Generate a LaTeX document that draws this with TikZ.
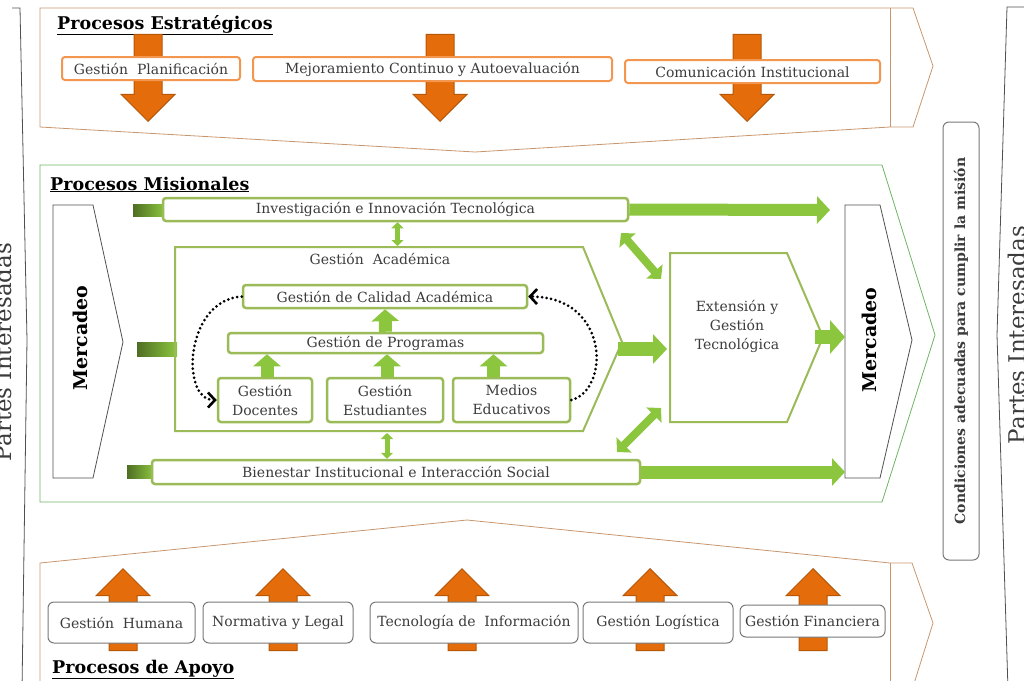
\documentclass[tikz,border=0pt]{standalone}
\usepackage{fontspec}
\setmainfont{DejaVu Serif}
\usetikzlibrary{arrows.meta,shapes.arrows}

\definecolor{naranja}{RGB}{228,108,10}
\definecolor{naranjaosc}{RGB}{182,87,8}
\definecolor{naranjaclaro}{RGB}{242,150,80}
\definecolor{marron}{RGB}{200,150,110}
\definecolor{verde}{RGB}{140,198,63}
\definecolor{verdeborde}{RGB}{155,187,89}
\definecolor{verdemarco}{RGB}{110,180,100}
\definecolor{verdeosc}{RGB}{79,110,35}
\definecolor{gris}{RGB}{120,120,120}
\definecolor{grisosc}{RGB}{80,80,80}
\definecolor{texto}{RGB}{60,60,60}

\begin{document}
\begin{tikzpicture}[x=1pt,y=-1pt,
  tit/.style={font=\fontsize{17.5}{20}\selectfont\bfseries, anchor=base west, inner sep=0pt},
  cajanar/.style={draw=naranjaclaro, line width=2pt, rounded corners=3pt, fill=white, text=texto, font=\fontsize{14}{17}\selectfont, inner sep=0pt},
  cajaverde/.style={draw=verdeborde, line width=2.5pt, rounded corners=3pt, fill=white, text=texto, font=\fontsize{14}{19}\selectfont, inner sep=0pt, align=center},
  cajagris/.style={draw=gris, line width=1pt, rounded corners=6pt, fill=white, text=texto, font=\fontsize{14}{17}\selectfont, inner sep=0pt},
  flechanar/.style={single arrow, draw=naranjaosc, fill=naranja, line width=1pt, inner xsep=0pt, inner ysep=13.5pt, single arrow head extend=13pt, single arrow tip angle=90, minimum height=87pt, minimum width=53pt, anchor=tip},
  flechaverde/.style={draw=verde, line width=12pt, -{Triangle[length=13pt,width=27pt]}},
  subeverde/.style={draw=verde, line width=13pt, -{Triangle[length=12pt,width=27pt]}},
  dobleverde/.style={draw=verde, line width=8pt, {Triangle[length=10pt,width=21pt]}-{Triangle[length=10pt,width=21pt]}},
  punteada/.style={line width=3pt, dash pattern=on 0pt off 4.6pt, line cap=round, -{Straight Barb[length=7pt,width=15pt,line width=2.6pt]}},
  mercadeo/.style={rotate=90, font=\fontsize{19}{21}\selectfont\bfseries},
  marco/.style={line width=0.8pt}]
\useasboundingbox (0,0) rectangle (1024,680);
\clip (0,0) rectangle (1024,680);

\draw[grisosc, marco] (12,8) -- (20,8) -- (27,340) -- (22,690);
\draw[grisosc, marco] (1030,7) -- (1007,7) -- (997,335) -- (1008,690);
\node[font=\fontsize{23}{26}\selectfont, rotate=90, anchor=base, text=texto, inner sep=0pt] (partesizq) at (12,352) {Partes Interesadas};
\node[font=\fontsize{23}{26}\selectfont, rotate=90, anchor=base, text=texto, inner sep=0pt] (partesder) at (1025,335) {Partes Interesadas};

\draw[marron, marco] (40,8) -- (913,8) -- (933,66) -- (913,127) -- (890,127) -- (475,152) -- (40,127) -- cycle;
\draw[marron, marco] (890,8) -- (890,127);
\node[tit] (estrat) at (57,29) {\underline{Procesos Estratégicos}};
\node[flechanar, rotate=-90] (baja1) at (148,122) {};
\node[flechanar, rotate=-90] (baja2) at (440,122) {};
\node[flechanar, rotate=-90] (baja3) at (747,122) {};
\node[cajanar, minimum width=178pt, minimum height=23pt] (planif) at (151,68.5) {Gestión\ \ Planificación};
\node[cajanar, minimum width=359pt, minimum height=24pt] (mejora) at (432.5,69) {Mejoramiento Continuo y Autoevaluación};
\node[cajanar, minimum width=255pt, minimum height=23pt] (comunic) at (752.5,71.5) {Comunicación Institucional};

\draw[verdemarco, marco] (40,165) -- (882,165) -- (935,335) -- (882,502) -- (40,502) -- cycle;
\node[tit] (misional) at (50,190) {\underline{Procesos Misionales}};
\draw[grisosc, marco] (53,205) -- (93,205) -- (123,342) -- (93,478) -- (53,478) -- cycle;
\node[mercadeo] (mercizq) at (80,338) {Mercadeo};
\draw[grisosc, marco] (845,205) -- (880,205) -- (912,340) -- (880,478) -- (845,478) -- cycle;
\node[mercadeo] (mercder) at (869,340) {Mercadeo};

\shade[left color=verdeosc, right color=verde] (133,204) rectangle (165,216);
\shade[left color=verdeosc, right color=verde] (137,342) rectangle (177,356);
\shade[left color=verdeosc, right color=verde] (127,465) rectangle (154,478);

\draw[verdeborde, line width=2pt] (175,247) -- (583,247) -- (622,342) -- (583,431) -- (175,431) -- cycle;
\node[text=texto, font=\fontsize{14}{17}\selectfont] (academ) at (380,259) {Gestión\ \ Académica};
\draw[verdeborde, line width=2pt] (670,253) -- (787,253) -- (823,337) -- (787,422) -- (670,422) -- cycle;
\node[text=texto, font=\fontsize{14}{19}\selectfont, align=center] (exten) at (737,326) {Extensión y\\Gestión\\Tecnológica};

\node[cajaverde, minimum width=465pt, minimum height=23pt] (invest) at (395.5,209.5) {Investigación e Innovación Tecnológica};
\node[cajaverde, minimum width=488pt, minimum height=24pt] (bienes) at (396,472) {Bienestar Institucional e Interacción Social};
\node[cajaverde, minimum width=284pt, minimum height=23pt] (calidad) at (385,296.5) {Gestión de Calidad Académica};
\node[cajaverde, minimum width=315pt, minimum height=20pt] (progr) at (385.5,343) {Gestión de Programas};
\node[cajaverde, minimum width=94pt, minimum height=44pt] (docen) at (265,400) {Gestión\\Docentes};
\node[cajaverde, minimum width=116pt, minimum height=44pt] (estud) at (385,400) {Gestión\\Estudiantes};
\node[cajaverde, minimum width=117pt, minimum height=44pt] (medios) at (511.5,400) {Medios\\Educativos};

\coordinate (investfin) at (830,210);
\coordinate (bienesfin) at (845,472);
\coordinate (acadpunta) at (618,349);
\coordinate (extoeste) at (667,349);
\coordinate (extpunta) at (815,337);
\coordinate (mercoeste) at (845,337);
\draw[flechaverde] (invest.east) -- (investfin);
\draw[flechaverde, line width=13pt] (bienes.east) -- (bienesfin);
\draw[flechaverde, line width=14pt, -{Triangle[length=14pt,width=29pt]}] (acadpunta) -- (extoeste);
\draw[flechaverde, line width=14pt, -{Triangle[length=15pt,width=33pt]}] (extpunta) -- (mercoeste);

\coordinate (diag1a) at (621,233);
\coordinate (diag1b) at (661,279);
\coordinate (diag2a) at (617,452);
\coordinate (diag2b) at (661,408);
\draw[dobleverde] (diag1a) -- (diag1b);
\draw[dobleverde] (diag2a) -- (diag2b);
\draw[dobleverde, line width=5pt, {Triangle[length=6pt,width=12pt]}-{Triangle[length=6pt,width=12pt]}] ([xshift=2pt]invest.south) -- ([xshift=2pt]invest.south |- 0,246);
\draw[dobleverde, line width=5pt, {Triangle[length=6pt,width=12pt]}-{Triangle[length=6pt,width=12pt]}] ([xshift=-9pt]bienes.north) -- ([xshift=-9pt]bienes.north |- 0,433);

\draw[subeverde] (progr.north) -- (calidad.south);
\draw[subeverde] ([xshift=2pt]docen.north) -- ([xshift=2pt]docen.north |- progr.south);
\draw[subeverde] ([xshift=2pt]estud.north) -- ([xshift=2pt]estud.north |- progr.south);
\draw[subeverde] ([xshift=-18pt]medios.north) -- ([xshift=-18pt]medios.north |- progr.south);

\draw[punteada] (calidad.west) .. controls (185,300) and (180,400) .. (docen.west);
\draw[punteada] (medios.east) .. controls (610,390) and (610,297) .. (calidad.east);

\node[draw=gris, rounded corners=6pt, line width=1pt, rotate=90, minimum width=438pt, minimum height=36pt, font=\fontsize{14}{16}\selectfont\bfseries, text=texto] (condic) at (961,341) {Condiciones adecuadas para cumplir la misión};

\draw[marron, marco] (40,690) -- (40,563) -- (467,520) -- (890,563) -- (912,563) -- (933,623) -- (912,690);
\draw[marron, marco] (890,563) -- (890,690);
\node[flechanar, rotate=90, minimum height=82pt] (sube1) at (123,568) {};
\node[flechanar, rotate=90, minimum height=82pt] (sube2) at (283,568) {};
\node[flechanar, rotate=90, minimum height=82pt] (sube3) at (462,568) {};
\node[flechanar, rotate=90, minimum height=82pt] (sube4) at (650,568) {};
\node[flechanar, rotate=90, minimum height=82pt] (sube5) at (813,568) {};
\node[cajagris, minimum width=147pt, minimum height=41pt] (humana) at (121.5,622.5) {Gestión\ \ Humana};
\node[cajagris, minimum width=150pt, minimum height=41pt] (normat) at (278,622.5) {Normativa y Legal};
\node[cajagris, minimum width=208pt, minimum height=41pt] (tecno) at (474,622.5) {Tecnología de\ \ Información};
\node[cajagris, minimum width=150pt, minimum height=41pt] (logist) at (658,622.5) {Gestión Logística};
\node[cajagris, minimum width=145pt, minimum height=32pt] (financ) at (812.5,621) {Gestión Financiera};
\node[tit] (apoyo) at (52,673) {\underline{Procesos de Apoyo}};
\end{tikzpicture}
\end{document}
